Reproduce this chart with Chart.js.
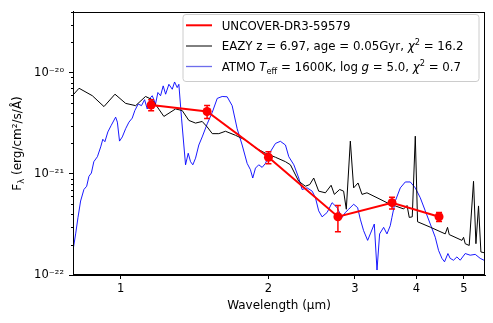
<!DOCTYPE html>
<html>
<head>
<meta charset="utf-8">
<script src="https://cdn.jsdelivr.net/npm/chart.js@4"></script>
<style>
  html, body { margin: 0; padding: 0; background: #fff; }
  #wrap { width: 493px; height: 323px; }
</style>
</head>
<body>
<div id="wrap"><canvas id="sed" width="493" height="323"></canvas></div>
<script>
// photometry (µm, erg/cm2/s/Å)
const redWave = [1.154, 1.50, 2.00, 2.77, 3.57, 4.45]
const redFlux = [4.8e-21, 4.14e-21, 1.46e-21, 3.77e-22, 5.19e-22, 3.77e-22]
const redErr  = [0.6e-21, 0.6e-21, 0.2e-21, 1.1e-22, 0.7e-22, 0.38e-22]

// EAZY template
const eazyWave = [0.801, 0.823, 0.876, 0.925, 0.974, 1.024, 1.073, 1.124, 1.160, 1.225,
  1.294, 1.335, 1.377, 1.421, 1.466, 1.501, 1.537, 1.585, 1.635, 1.713,
  1.796, 1.882, 1.972, 2.067, 2.166, 2.217, 2.305, 2.378, 2.427, 2.473,
  2.531, 2.612, 2.683, 2.724, 2.793, 2.845, 2.881, 2.936, 2.982, 3.044,
  3.101, 3.174, 3.327, 3.486, 3.625, 3.770, 3.830, 3.870, 3.925, 3.981,
  4.024, 4.272, 4.581, 4.631, 4.668, 4.954, 4.992, 5.031, 5.126, 5.231,
  5.290, 5.355, 5.415, 5.525]
const eazyFlux = [6.06e-21, 7.03e-21, 5.93e-21, 4.63e-21, 6.14e-21, 4.98e-21, 4.73e-21, 5.83e-21, 5.42e-21, 3.70e-21,
  4.39e-21, 4.23e-21, 3.38e-21, 3.18e-21, 3.30e-21, 2.91e-21, 2.50e-21, 2.50e-21, 2.64e-21, 2.41e-21,
  2.16e-21, 1.81e-21, 1.60e-21, 1.46e-21, 1.32e-21, 1.23e-21, 8.45e-22, 7.55e-22, 7.84e-22, 9.10e-22,
  6.75e-22, 6.50e-22, 7.72e-22, 6.27e-22, 7.01e-22, 6.75e-22, 4.47e-22, 2.11e-21, 7.27e-22, 8.13e-22,
  6.27e-22, 6.50e-22, 5.81e-22, 5.19e-22, 4.82e-22, 4.50e-22, 4.87e-22, 3.71e-22, 3.76e-22, 2.36e-21,
  3.36e-22, 2.97e-22, 2.55e-22, 2.96e-22, 2.51e-22, 2.20e-22, 2.36e-22, 2.04e-22, 1.96e-22, 8.45e-22,
  2.04e-22, 4.82e-22, 1.69e-22, 1.65e-22]

// ATMO brown dwarf model
const atmoWave = [0.801, 0.810, 0.819, 0.829, 0.842, 0.853, 0.862, 0.872, 0.882, 0.897,
  0.911, 0.920, 0.929, 0.942, 0.957, 0.977, 0.985, 0.995, 1.008, 1.024,
  1.040, 1.056, 1.069, 1.086, 1.103, 1.119, 1.133, 1.151, 1.160, 1.178,
  1.191, 1.206, 1.221, 1.235, 1.254, 1.274, 1.288, 1.304, 1.314, 1.331,
  1.345, 1.356, 1.373, 1.388, 1.403, 1.421, 1.443, 1.466, 1.501, 1.537,
  1.573, 1.610, 1.648, 1.687, 1.727, 1.768, 1.810, 1.838, 1.858, 1.882,
  1.911, 1.942, 1.972, 2.019, 2.067, 2.115, 2.166, 2.200, 2.253, 2.305,
  2.342, 2.398, 2.455, 2.493, 2.531, 2.572, 2.633, 2.695, 2.759, 2.824,
  2.868, 2.913, 2.982, 3.038, 3.076, 3.124, 3.184, 3.224, 3.285, 3.327,
  3.368, 3.432, 3.486, 3.540, 3.568, 3.625, 3.711, 3.799, 3.889, 3.981,
  4.075, 4.172, 4.271, 4.372, 4.440, 4.511, 4.566, 4.639, 4.689, 4.762,
  4.839, 4.914, 5.031, 5.150, 5.273, 5.398, 5.525]
const atmoFlux = [1.82e-22, 2.55e-22, 3.71e-22, 5.39e-22, 7.01e-22, 7.55e-22, 9.45e-22, 1.02e-21, 1.32e-21, 1.48e-21,
  1.85e-21, 2.20e-21, 2.08e-21, 2.60e-21, 3.02e-21, 3.64e-21, 3.25e-21, 2.11e-21, 2.32e-21, 2.80e-21,
  3.25e-21, 3.56e-21, 4.23e-21, 4.91e-21, 4.73e-21, 5.42e-21, 4.39e-21, 5.70e-21, 5.93e-21, 4.91e-21,
  6.38e-21, 5.93e-21, 7.42e-21, 6.14e-21, 7.69e-21, 6.87e-21, 8.11e-21, 7.14e-21, 7.69e-21, 3.50e-21,
  1.93e-21, 1.23e-21, 1.60e-21, 1.32e-21, 1.23e-21, 1.43e-21, 1.93e-21, 2.32e-21, 3.13e-21, 4.07e-21,
  5.58e-21, 5.83e-21, 5.79e-21, 4.73e-21, 2.80e-21, 1.93e-21, 1.27e-21, 1.10e-21, 9.10e-22, 1.14e-21,
  1.23e-21, 1.16e-21, 1.27e-21, 1.66e-21, 2.00e-21, 2.10e-21, 1.93e-21, 1.48e-21, 1.23e-21, 9.10e-22,
  7.01e-22, 7.27e-22, 6.75e-22, 5.81e-22, 4.31e-22, 3.76e-22, 4.15e-22, 5.19e-22, 4.64e-22, 3.71e-22,
  4.15e-22, 4.47e-22, 5.01e-22, 4.64e-22, 3.57e-22, 2.75e-22, 2.20e-22, 2.55e-22, 3.19e-22, 1.12e-22,
  2.55e-22, 2.96e-22, 2.55e-22, 3.07e-22, 3.71e-22, 5.39e-22, 7.27e-22, 8.32e-22, 8.32e-22, 7.27e-22,
  5.81e-22, 4.31e-22, 3.19e-22, 2.36e-22, 1.75e-22, 1.46e-22, 1.35e-22, 1.63e-22, 1.46e-22, 1.40e-22,
  1.51e-22, 1.40e-22, 1.63e-22, 1.57e-22, 1.60e-22, 1.46e-22, 1.38e-22]

const xTicks = [1, 2, 3, 4, 5]
const yDecades = [1e-22, 1e-21, 1e-20]

const FONT = '"DejaVu Sans"'
Chart.defaults.font.family = FONT
Chart.defaults.color = '#000'

const pts = (xs, ys) => xs.map((x, i) => ({ x: x, y: ys[i] }))

const SUP = { '-': '\u207B', '0': '\u2070', '1': '\u00B9', '2': '\u00B2', '3': '\u00B3',
  '4': '\u2074', '5': '\u2075', '6': '\u2076', '7': '\u2077', '8': '\u2078', '9': '\u2079' }
const isDecade = v => Math.abs(Math.log10(v) - Math.round(Math.log10(v))) < 1e-6
const decadeLabel = v => '10' + String(Math.round(Math.log10(v))).split('').map(c => SUP[c]).join('')

// minor y ticks 2..9 x each decade
let yTickValues = []
yDecades.forEach(d => { for (let m = 1; m <= 9; m++) yTickValues.push(m * d) })
yTickValues = yTickValues.filter(v => v <= 4.01e-20)

// draws a run of text pieces with italic / sub / sup
function drawRich(ctx, x, y, parts, size, measureOnly) {
  for (const p of parts) {
    let fs = size, dy = 0
    if (p.sub) { fs = size * 0.7; dy = size * 0.25 }
    if (p.sup) { fs = size * 0.7; dy = -size * 0.42 }
    ctx.font = (p.it ? 'italic ' : '') + fs + 'px ' + FONT
    if (!measureOnly) ctx.fillText(p.t, x, y + dy)
    x += ctx.measureText(p.t).width
  }
  return x
}

const errorBars = {
  id: 'errorBars',
  beforeDatasetDraw(chart, args) {
    if (args.index !== 0) return
    const { ctx, scales: { x, y } } = chart
    ctx.save()
    ctx.strokeStyle = '#ff0000'
    ctx.lineWidth = 1.5
    redWave.forEach((w, i) => {
      const px = x.getPixelForValue(w)
      const top = y.getPixelForValue(redFlux[i] + redErr[i])
      const bot = y.getPixelForValue(redFlux[i] - redErr[i])
      ctx.beginPath()
      ctx.moveTo(px, top); ctx.lineTo(px, bot)
      ctx.moveTo(px - 3, top); ctx.lineTo(px + 3, top)
      ctx.moveTo(px - 3, bot); ctx.lineTo(px + 3, bot)
      ctx.stroke()
    })
    ctx.restore()
  }
}

const frame = {
  id: 'frame',
  afterDraw(chart) {
    const { ctx, chartArea: a, scales: { y } } = chart
    ctx.save()
    ctx.strokeStyle = '#000'
    ctx.lineWidth = 1
    const l = Math.round(a.left) + 0.5, r = Math.round(a.right) - 0.5
    const t = Math.round(a.top) + 0.5, b = Math.round(a.bottom) - 0.5
    ctx.strokeRect(l, t, r - l, b - t)
    // minor ticks on y
    ctx.beginPath()
    yTickValues.filter(v => !isDecade(v)).forEach(v => {
      const py = Math.round(y.getPixelForValue(v)) + 0.5
      ctx.moveTo(l, py); ctx.lineTo(l - 2.5, py)
    })
    ctx.stroke()
    ctx.restore()
  }
}

const yTitle = {
  id: 'yTitle',
  afterDraw(chart) {
    const { ctx, chartArea: a } = chart
    const parts = [{ t: 'F' }, { t: '\u03BB', sub: true }, { t: ' (erg/cm\u00B2/s/\u00C5)' }]
    ctx.save()
    ctx.fillStyle = '#000'
    ctx.textBaseline = 'alphabetic'
    const w = drawRich(ctx, 0, 0, parts, 12, true)
    ctx.translate(21, (a.top + a.bottom) / 2)
    ctx.rotate(-Math.PI / 2)
    drawRich(ctx, -w / 2, 0, parts, 12)
    ctx.restore()
  }
}

const legendBox = {
  id: 'legendBox',
  afterDraw(chart) {
    const ctx = chart.ctx
    const bx = 183, by = 14.5, bw = 296, bh = 67, rad = 3
    ctx.save()
    ctx.beginPath()
    ctx.moveTo(bx + rad, by)
    ctx.arcTo(bx + bw, by, bx + bw, by + bh, rad)
    ctx.arcTo(bx + bw, by + bh, bx, by + bh, rad)
    ctx.arcTo(bx, by + bh, bx, by, rad)
    ctx.arcTo(bx, by, bx + bw, by, rad)
    ctx.closePath()
    ctx.fillStyle = 'rgba(255,255,255,0.8)'
    ctx.fill()
    ctx.strokeStyle = '#cccccc'
    ctx.lineWidth = 1
    ctx.stroke()

    const rows = [
      { color: '#ff0000', width: 2, y: 25.3,
        parts: [{ t: 'UNCOVER-DR3-59579' }] },
      { color: '#000000', width: 1, y: 46,
        parts: [{ t: 'EAZY z = 6.97, age = 0.05Gyr, ' }, { t: '\u03C7', it: true }, { t: '2', sup: true }, { t: ' = 16.2' }] },
      { color: 'rgba(60,60,230,0.75)', width: 1.3, y: 66.5,
        parts: [{ t: 'ATMO ' }, { t: 'T', it: true }, { t: 'eff', sub: true }, { t: ' = 1600K, log ' },
          { t: 'g', it: true }, { t: ' = 5.0, ' }, { t: '\u03C7', it: true }, { t: '2', sup: true }, { t: ' = 0.7' }] }
    ]
    ctx.textBaseline = 'alphabetic'
    rows.forEach(row => {
      ctx.strokeStyle = row.color
      ctx.lineWidth = row.width
      ctx.beginPath()
      ctx.moveTo(186, row.y); ctx.lineTo(212, row.y)
      ctx.stroke()
      ctx.fillStyle = '#000'
      drawRich(ctx, 221.7, row.y + 4.3, row.parts, 11.8)
    })
    ctx.restore()
  }
}

const ctx = document.getElementById('sed').getContext('2d')

new Chart(ctx, {
  type: 'line',
  data: {
    datasets: [{
      label: 'UNCOVER-DR3-59579',
      data: pts(redWave, redFlux),
      borderColor: '#ff0000',
      backgroundColor: '#ff0000',
      borderWidth: 2,
      pointRadius: 4.5,
      pointBorderWidth: 0,
      pointBackgroundColor: '#ff0000',
    }, {
      label: 'EAZY',
      data: pts(eazyWave, eazyFlux),
      borderColor: '#000000',
      borderWidth: 1,
      pointRadius: 0,
    }, {
      label: 'ATMO',
      data: pts(atmoWave, atmoFlux),
      borderColor: 'rgba(0,0,255,0.9)',
      borderWidth: 1,
      pointRadius: 0,
    }]
  },
  options: {
    responsive: false,
    animation: false,
    devicePixelRatio: 1,
    layout: { padding: { top: 8, right: 8, left: 0, bottom: 0 } },
    plugins: { legend: { display: false }, tooltip: { enabled: false } },
    scales: {
      x: {
        type: 'logarithmic',
        min: 0.8,
        max: 5.52,
        afterFit: s => { s.height = 48 },
        afterBuildTicks: s => { s.ticks = xTicks.map(v => ({ value: v })) },
        ticks: { callback: v => String(v), font: { size: 11.5 }, color: '#000', padding: 3, maxRotation: 0, autoSkip: false },
        grid: { drawOnChartArea: false, tickLength: 4, tickColor: '#000' },
        border: { color: '#000' },
        title: { display: true, text: 'Wavelength (\u00B5m)', font: { size: 12 }, color: '#000', padding: { top: 0, bottom: 10 } }
      },
      y: {
        type: 'logarithmic',
        min: 1e-22,
        max: 4e-20,
        afterFit: s => { s.width = 73 },
        afterBuildTicks: s => { s.ticks = yDecades.map(v => ({ value: v })) },
        ticks: { callback: v => isDecade(v) ? decadeLabel(v) : '', font: { size: 11.5 }, color: '#000', padding: 5, autoSkip: false },
        grid: { drawOnChartArea: false, tickLength: 4, tickColor: '#000' },
        border: { color: '#000' }
      }
    }
  },
  plugins: [errorBars, frame, yTitle, legendBox]
})
</script>
</body>
</html>
